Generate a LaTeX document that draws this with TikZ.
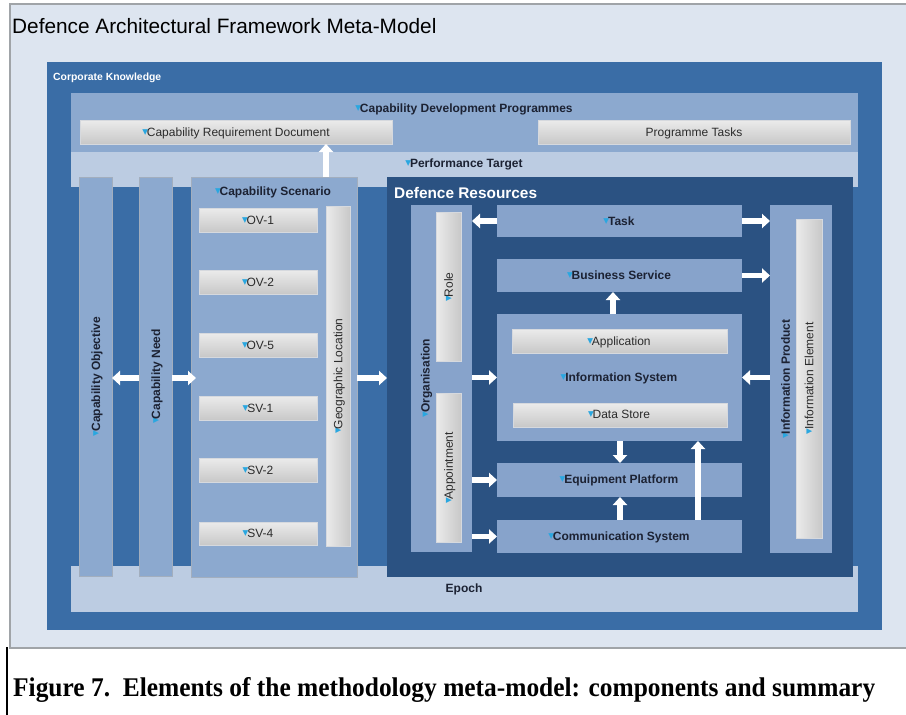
\documentclass[tikz,border=0pt]{standalone}
\usepackage{fontspec}
\usepackage{graphicx}
\setmainfont{Liberation Sans}
\newfontfamily\capfont{Liberation Serif}
\newfontfamily\dejavu{DejaVu Sans}
\usetikzlibrary{arrows.meta,fit}
\definecolor{panelbg}{HTML}{DDE5F0}
\definecolor{panelline}{HTML}{A0A4A8}
\definecolor{corp}{HTML}{3A6DA6}
\definecolor{band}{HTML}{8CA9CF}
\definecolor{lightband}{HTML}{BCCCE2}
\definecolor{coledge}{HTML}{A2AEBE}
\definecolor{resfill}{HTML}{2B5282}
\definecolor{inner}{HTML}{87A3CB}
\definecolor{grayT}{HTML}{EBEBEB}
\definecolor{grayB}{HTML}{C8C8C8}
\definecolor{grayE}{HTML}{D6D9DE}
\definecolor{lbltext}{HTML}{1C2233}
\definecolor{graytext}{HTML}{2B2B2B}
\definecolor{mkc}{HTML}{2AA7E0}
\newcommand\mk{{\dejavu\fontsize{7.5}{7.5}\selectfont\color{mkc}\raisebox{2pt}{▼}}\kern-1.2pt}
\tikzset{
  rect/.style={inner sep=0pt, outer sep=0pt},
  colbox/.style={rect, fill=band, draw=coledge, line width=0.8pt},
  innerbox/.style={rect, fill=inner},
  graybox/.style={rect, top color=grayT, bottom color=grayB, draw=grayE, line width=0.6pt},
  vgraybox/.style={rect, left color=grayT, right color=grayB, draw=grayE, line width=0.6pt},
  lbl/.style={inner sep=0pt, anchor=base, text=graytext, font=\fontsize{12}{14}\selectfont},
  blbl/.style={inner sep=0pt, anchor=base, text=lbltext, font=\fontsize{12}{14}\selectfont\bfseries},
  warrow/.style={draw=white, line width=5.5pt, -{Triangle[length=8pt,width=14pt]}}
}
\begin{document}
\begin{tikzpicture}[x=1pt,y=-1pt]
\useasboundingbox (0,0) rectangle (906,715);
\fill[white] (0,0) rectangle (906,715);
% panel
\fill[panelbg] (10,4) rectangle (906,648);
\draw[panelline, line width=1.5pt] (906,4) -- (10,4) -- (10,648) -- (906,648);
\draw[black, line width=1.4pt] (7,647) -- (7,715);
\node[inner sep=0pt, anchor=base west, font=\fontsize{20.8}{24}\selectfont, text=black] (title) at (12,33) {Defence Architectural Framework Meta-Model};

% corporate knowledge
\node[rect, fill=corp, fit={(47,62) (882,630)}] (corp) {};
\node[inner sep=0pt, anchor=base west, text=white, font=\fontsize{10.4}{12}\selectfont\bfseries] (corplbl) at (53,80) {Corporate Knowledge};

% top bands
\node[rect, fill=band, fit={(71,93) (858,152)}] (cdp) {};
\node[blbl] (cdplbl) at (464,112.3) {\mk Capability Development Programmes};
\node[graybox, fit={(80,120) (392,144)}] (crd) {};
\node[lbl] (crdlbl) at (236,136.3) {\mk Capability Requirement Document};
\node[graybox, fit={(538,120) (850,144)}] (ptasks) {};
\node[lbl] (ptaskslbl) at (694,136.3) {Programme Tasks};
\node[rect, fill=lightband, fit={(71,152) (858,187)}] (perf) {};
\node[blbl] (perflbl) at (464,167.3) {\mk Performance Target};

% epoch
\node[rect, fill=lightband, fit={(71,566) (858,612)}] (epoch) {};
\node[blbl] (epochlbl) at (464,592.6) {Epoch};

% left columns
\node[colbox, fit={(79,177) (112,576)}] (obj) {};
\node[blbl, rotate=90] (objlbl) at (100,376.5) {\mk Capability Objective};
\node[colbox, fit={(139,177) (172,576)}] (need) {};
\node[blbl, rotate=90] (needlbl) at (160,376.5) {\mk Capability Need};
\node[colbox, fit={(191,177) (357,577)}] (scen) {};
\node[blbl] (scenlbl) at (273,195.3) {\mk Capability Scenario};
\node[graybox, fit={(199,208) (317,232)}] (ov1) {};
\node[lbl] at (ov1.center) [yshift=-4.3pt] {\mk OV-1};
\node[graybox, fit={(199,270) (317,294)}] (ov2) {};
\node[lbl] at (ov2.center) [yshift=-4.3pt] {\mk OV-2};
\node[graybox, fit={(199,333) (317,357)}] (ov5) {};
\node[lbl] at (ov5.center) [yshift=-4.3pt] {\mk OV-5};
\node[graybox, fit={(199,396) (317,420)}] (sv1) {};
\node[lbl] at (sv1.center) [yshift=-4.3pt] {\mk SV-1};
\node[graybox, fit={(199,458) (317,482)}] (sv2) {};
\node[lbl] at (sv2.center) [yshift=-4.3pt] {\mk SV-2};
\node[graybox, fit={(199,522) (317,545)}] (sv4) {};
\node[lbl] at (sv4.center) [yshift=-4.3pt] {\mk SV-4};
\node[vgraybox, fit={(326,206) (350,546)}] (geo) {};
\node[lbl, rotate=90] (geolbl) at (342.3,376) {\mk Geographic Location};

% defence resources
\node[rect, fill=resfill, fit={(387,177) (853,577)}] (dr) {};
\node[inner sep=0pt, anchor=base west, text=white, font=\fontsize{15.4}{18}\selectfont\bfseries] (drlbl) at (394,198.5) {Defence Resources};

\node[innerbox, fit={(411,205) (472,552)}] (org) {};
\node[vgraybox, fit={(436,212) (461,361)}] (role) {};
\node[lbl, rotate=90] (rolelbl) at (452.8,287) {\mk Role};
\node[vgraybox, fit={(436,393) (461,542)}] (appt) {};
\node[lbl, rotate=90] (apptlbl) at (452.8,468) {\mk Appointment};
\node[blbl, rotate=90] (orglbl) at (429.5,378) {\mk Organisation};

\node[innerbox, fit={(497,205) (742,237)}] (task) {};
\node[blbl] (tasklbl) at (619,225.3) {\mk Task};
\node[innerbox, fit={(497,259) (742,292)}] (bs) {};
\node[blbl] (bslbl) at (619,279.3) {\mk Business Service};
\node[innerbox, fit={(497,314) (742,441)}] (is) {};
\node[graybox, fit={(512,329) (727,353)}] (app) {};
\node[lbl] (applbl) at (619,345) {\mk Application};
\node[blbl] (islbl) at (619,381.6) {\mk Information System};
\node[graybox, fit={(513,403) (727,427)}] (ds) {};
\node[lbl] (dslbl) at (619,418.3) {\mk Data Store};
\node[innerbox, fit={(497,463) (742,497)}] (ep) {};
\node[blbl] (eplbl) at (619,483.6) {\mk Equipment Platform};
\node[innerbox, fit={(497,520) (742,553)}] (cs) {};
\node[blbl] (cslbl) at (619,540.3) {\mk Communication System};

\node[innerbox, fit={(770,205) (832,553)}] (ip) {};
\node[vgraybox, fit={(796,219) (822,538)}] (ie) {};
\node[blbl, rotate=90] (iplbl) at (789.8,379) {\mk Information Product};
\node[lbl, rotate=90] (ielbl) at (813.3,378.5) {\mk Information Element};

% arrows
\coordinate (ya) at (0,378);
\coordinate (x1) at (613,0);
\coordinate (x2) at (620,0);
\coordinate (x3) at (698,0);
\draw[warrow] (need.west |- ya) -- (obj.east |- ya);
\draw[warrow] (need.east |- ya) -- ([xshift=5pt]scen.west |- ya);
\draw[warrow] (scen.east |- ya) -- (dr.west |- ya);
\draw[warrow] (geo.west |- scen.north) -- (geo.west |- crd.south);
\draw[warrow] (task.west) -- (org.east |- task.west);
\draw[warrow] (task.east) -- (ip.west |- task.east);
\draw[warrow] (bs.east) -- (ip.west |- bs.east);
\draw[warrow] (is.north -| x1) -- (bs.south -| x1);
\draw[warrow] (org.east |- is.west) -- (is.west);
\draw[warrow] (ip.west |- is.east) -- (is.east);
\draw[warrow] (is.south -| x2) -- (ep.north -| x2);
\draw[warrow] (cs.north -| x2) -- (ep.south -| x2);
\draw[warrow] (cs.north -| x3) -- (is.south -| x3);
\draw[warrow] (org.east |- ep.west) -- (ep.west);
\draw[warrow] (org.east |- cs.west) -- (cs.west);

% caption
\node[inner sep=0pt, anchor=base west, font=\capfont\fontsize{27}{30}\selectfont\bfseries] (caption) at (13,696) {\resizebox{862pt}{\height}{Figure 7.\ \ Elements of the methodology meta-model: components and summary}};
\end{tikzpicture}
\end{document}
